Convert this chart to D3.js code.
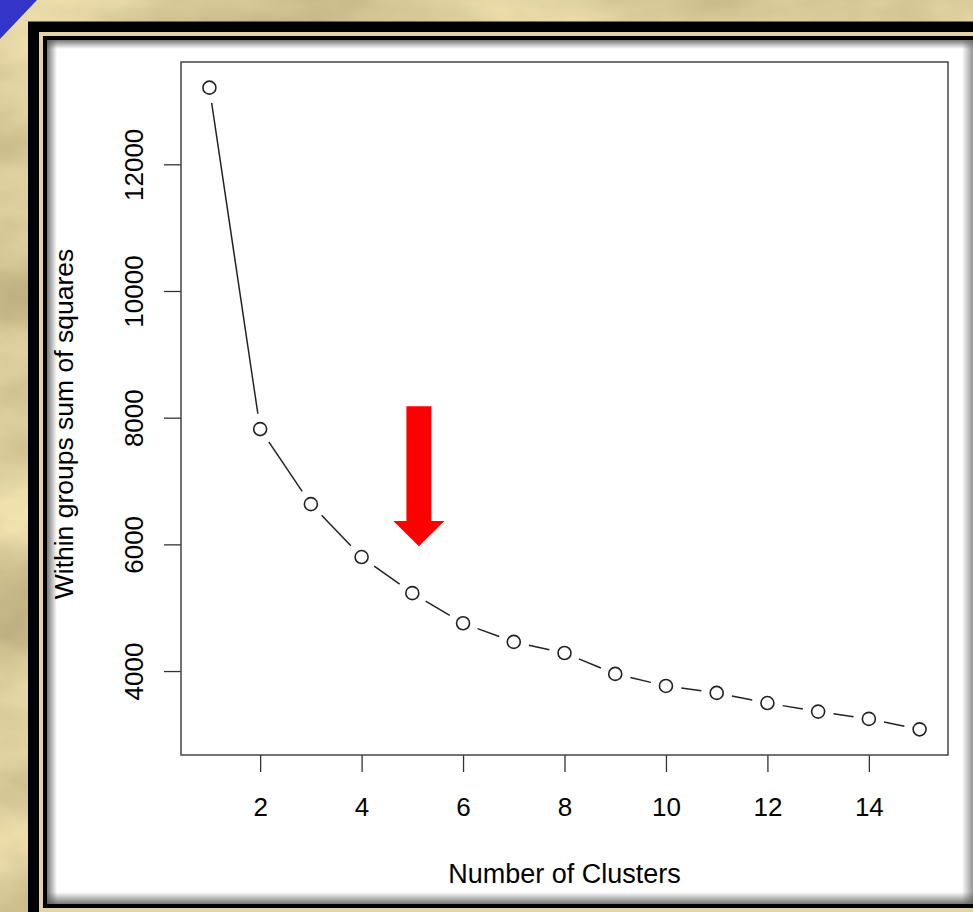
<!DOCTYPE html>
<html>
<head>
<meta charset="utf-8">
<script src="https://cdn.jsdelivr.net/npm/d3@7"></script>
<style>
  body { margin: 0; background: #d8ca9c; overflow: hidden; }
  svg { display: block; }
  text { font-family: "Liberation Sans", Arial, sans-serif; fill: #000; }
</style>
</head>
<body>
<script>
// elbow plot data
const clusters = [1, 2, 3, 4, 5, 6, 7, 8, 9, 10, 11, 12, 13, 14, 15];
const wss = [13210, 7820, 6635, 5800, 5230, 4755, 4460, 4285, 3955, 3765, 3655, 3495, 3360, 3245, 3080];
const xTicks = [2, 4, 6, 8, 10, 12, 14];
const yTicks = [4000, 6000, 8000, 10000, 12000];
// red arrow pointing at the elbow (data units)
const arrowX = 5.13;
const arrowY = [8180, 6370, 5970]; // top of shaft, base of head, tip

const width = 973, height = 912;
const svg = d3.select('body').append('svg').attr('width', width).attr('height', height);
const defs = svg.append('defs');

// parchment texture
const paper = defs.append('filter').attr('id', 'paper').attr('x', 0).attr('y', 0).attr('width', 1).attr('height', 1)
  .attr('color-interpolation-filters', 'sRGB');
paper.append('feTurbulence').attr('type', 'fractalNoise').attr('baseFrequency', '0.005 0.009').attr('numOctaves', 5).attr('seed', 11);
paper.append('feColorMatrix').attr('type', 'matrix')
  .attr('values', '0.30 0 0 0 0.70  0.30 0 0 0 0.64  0.28 0 0 0 0.46  0 0 0 0 1');
svg.append('rect').attr('width', width).attr('height', height).attr('filter', 'url(#paper)');

// blue corner
svg.append('path').attr('d', 'M0,0 L37,0 L0,39 Z').attr('fill', '#3434c8');

// frame
svg.append('rect').attr('x', 33.5).attr('y', 27).attr('width', 1000).attr('height', 1000)
  .attr('fill', 'none').attr('stroke', '#000').attr('stroke-width', 11);
svg.append('rect').attr('x', 39).attr('y', 32).attr('width', 1000).attr('height', 1000).attr('fill', '#e2d4a6');
svg.append('rect').attr('x', 43).attr('y', 36).attr('width', 1000).attr('height', 872).attr('fill', '#000');
svg.append('rect').attr('x', 47).attr('y', 40).attr('width', 1000).attr('height', 864).attr('fill', '#fff');

// soft shadow on the white panel
function grad(id, x1, y1, x2, y2, c1, o1) {
  const g = defs.append('linearGradient').attr('id', id)
    .attr('x1', x1).attr('y1', y1).attr('x2', x2).attr('y2', y2);
  g.append('stop').attr('offset', 0).attr('stop-color', c1).attr('stop-opacity', o1);
  g.append('stop').attr('offset', 1).attr('stop-color', c1).attr('stop-opacity', 0);
}
grad('shTop', 0, 0, 0, 1, '#555', 0.8);
grad('shLeft', 0, 0, 1, 0, '#555', 0.8);
grad('shRight', 1, 0, 0, 0, '#666', 0.7);
grad('shBottom', 0, 1, 0, 0, '#555', 0.8);
svg.append('rect').attr('x', 47).attr('y', 40).attr('width', 926).attr('height', 9).attr('fill', 'url(#shTop)');
svg.append('rect').attr('x', 47).attr('y', 40).attr('width', 10).attr('height', 864).attr('fill', 'url(#shLeft)');
svg.append('rect').attr('x', 962).attr('y', 40).attr('width', 11).attr('height', 864).attr('fill', 'url(#shRight)');
svg.append('rect').attr('x', 47).attr('y', 892).attr('width', 926).attr('height', 12).attr('fill', 'url(#shBottom)');

// plot region (R style, 4% padding)
const pLeft = 181, pRight = 948, pTop = 62, pBottom = 755;
const xr = d3.extent(clusters), yr = d3.extent(wss);
const xpad = (xr[1] - xr[0]) * 0.04, ypad = (yr[1] - yr[0]) * 0.04;
const x = d3.scaleLinear().domain([xr[0] - xpad, xr[1] + xpad]).range([pLeft, pRight]);
const y = d3.scaleLinear().domain([yr[0] - ypad, yr[1] + ypad]).range([pBottom, pTop]);

const plot = svg.append('g');

// axes
const xAxis = plot.append('g').attr('transform', `translate(0,${pBottom})`)
  .call(d3.axisBottom(x).tickValues(xTicks).tickSize(17).tickPadding(24).tickFormat(d3.format('d')));
const yAxis = plot.append('g').attr('transform', `translate(${pLeft},0)`)
  .call(d3.axisLeft(y).tickValues(yTicks).tickSize(17).tickPadding(22).tickFormat(d3.format('d')));
[xAxis, yAxis].forEach(a => {
  a.select('.domain').remove();
  a.selectAll('line').attr('stroke', '#333').attr('stroke-width', 1.3);
  a.selectAll('text').attr('font-size', 26).attr('font-family', '"Liberation Sans", Arial, sans-serif');
});
xAxis.selectAll('text').attr('dy', null).attr('y', 61).attr('text-anchor', 'middle');
yAxis.selectAll('text')
  .attr('x', null).attr('dy', null)
  .attr('text-anchor', 'middle')
  .attr('transform', 'translate(-38,0) rotate(-90)');

// box
plot.append('rect').attr('x', pLeft).attr('y', pTop).attr('width', pRight - pLeft).attr('height', pBottom - pTop)
  .attr('fill', 'none').attr('stroke', '#444').attr('stroke-width', 1.5);

// axis titles
svg.append('text').attr('x', (pLeft + pRight) / 2).attr('y', 883).attr('text-anchor', 'middle')
  .attr('font-size', 27).text('Number of Clusters');
svg.append('text').attr('transform', `translate(73,424) rotate(-90)`)
  .attr('text-anchor', 'middle').attr('font-size', 26.5).text('Within groups sum of squares');

// type = "b": segments broken around the points
const pts = clusters.map((c, i) => [x(c), y(wss[i])]);
const gap = 15.5;
const segs = d3.pairs(pts).map(([a, b]) => {
  const dx = b[0] - a[0], dy = b[1] - a[1], len = Math.hypot(dx, dy);
  const ux = dx / len, uy = dy / len;
  return [a[0] + ux * gap, a[1] + uy * gap, b[0] - ux * gap, b[1] - uy * gap];
});
plot.selectAll('line.seg').data(segs).enter().append('line').attr('class', 'seg')
  .attr('x1', d => d[0]).attr('y1', d => d[1]).attr('x2', d => d[2]).attr('y2', d => d[3])
  .attr('stroke', '#222').attr('stroke-width', 1.5);
plot.selectAll('circle').data(pts).enter().append('circle')
  .attr('cx', d => d[0]).attr('cy', d => d[1]).attr('r', 6.5)
  .attr('fill', 'none').attr('stroke', '#222').attr('stroke-width', 1.6);

// red arrow
const ax = x(arrowX), shaftW = 12.5, headW = 25.5;
const arrowPath = d3.path();
arrowPath.moveTo(ax - shaftW, y(arrowY[0]));
arrowPath.lineTo(ax + shaftW, y(arrowY[0]));
arrowPath.lineTo(ax + shaftW, y(arrowY[1]));
arrowPath.lineTo(ax + headW, y(arrowY[1]));
arrowPath.lineTo(ax, y(arrowY[2]));
arrowPath.lineTo(ax - headW, y(arrowY[1]));
arrowPath.lineTo(ax - shaftW, y(arrowY[1]));
arrowPath.closePath();
svg.append('path').attr('d', arrowPath.toString()).attr('fill', '#ff0000');
</script>
</body>
</html>
